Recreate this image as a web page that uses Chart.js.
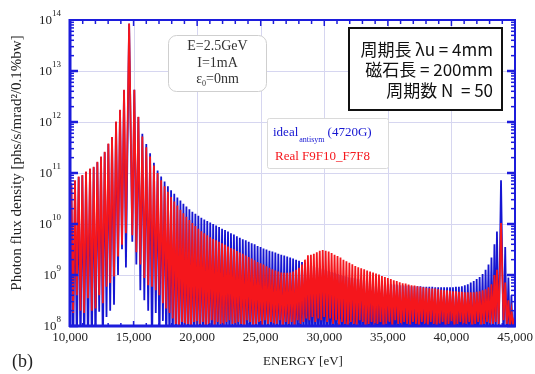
<!DOCTYPE html>
<html>
<head>
<meta charset="utf-8">
<script src="https://cdn.jsdelivr.net/npm/chart.js@4"></script>
<style>
  html, body { margin: 0; padding: 0; background: #fff; }
  canvas { display: block; }
</style>
</head>
<body>
<canvas id="flux-chart" width="535" height="374"></canvas>
<script>
// peak positions of the spectrum fringes [eV]
const peakEnergy = [
  10105, 10393, 10682, 10970, 11259, 11574, 11862, 12151, 12440, 12728, 13016, 13305, 13620, 13934, 14249,
  14650,
  15060, 15377, 15690, 16000, 16300, 16600, 16890, 17170, 17440, 17700, 17950, 18200, 18445, 18685, 18920,
  19155, 19390, 19625, 19860, 20095, 20330,
  20563, 20796, 21029, 21261, 21494, 21727, 21960, 22193, 22427, 22659,
  22891, 23124, 23357, 23590, 23823, 24056, 24288, 24521, 24754, 24987,
  25220, 25453, 25686, 25918, 26151, 26384, 26617, 26850, 27083, 27316,
  27548, 27781, 28014, 28247, 28480, 28713, 28946, 29178, 29411, 29644,
  29877, 30110, 30343, 30575, 30808, 31041, 31274, 31507, 31740, 31973,
  32205, 32438, 32671, 32904, 33137, 33370, 33602, 33835, 34068, 34301,
  34534, 34767, 35000, 35232, 35465, 35698, 35931, 36164, 36397, 36630,
  36862, 37095, 37328, 37561, 37794, 38027, 38259, 38492, 38725, 38958,
  39191, 39424, 39657, 39889, 40122, 40355, 40588, 40821, 41054, 41287,
  41519, 41752, 41985, 42218, 42451, 42684, 42916, 43149, 43382,
  43580, 43900, 44230, 44480, 44720, 44960
];

// ideal antisym (4720G), peak values
const idealPeak = [
  6e10, 7e10, 8.3e10, 8.9e10, 1.05e11, 1.2e11, 1.3e11, 1.62e11, 2.05e11, 2.55e11, 3.7e11, 5e11, 1e12, 1.7e12, 4.2e12,
  8.4e13,
  4.3e12, 1.25e12, 5.9e11, 3.7e11, 2.45e11, 1.58e11, 1.12e11, 8.5e10, 6.8e10, 5.5e10, 4.6e10, 3.9e10, 3.3e10, 2.9e10, 2.5e10,
  2.2e10, 1.95e10, 1.74e10, 1.58e10, 1.45e10, 1.32e10,
  1.23e10, 1.15e10, 1.07e10, 1e10, 9.3e9, 8.7e9, 8.1e9, 7.6e9, 7.1e9, 6.6e9,
  6.2e9, 5.75e9, 5.4e9, 5e9, 4.8e9, 4.5e9, 4.2e9, 4e9, 3.7e9, 3.55e9,
  3.3e9, 3.16e9, 3e9, 2.9e9, 2.75e9, 2.6e9, 2.5e9, 2.4e9, 2.3e9, 2.2e9,
  2.1e9, 2e9, 1.9e9, 1.8e9, 1.74e9, 1.66e9, 1.6e9, 1.5e9, 1.45e9, 1.38e9,
  1.32e9, 1.26e9, 1.2e9, 1.15e9, 1.1e9, 1.05e9, 1e9, 9.5e8, 9.3e8, 8.9e8,
  8.7e8, 8.5e8, 8.3e8, 8.1e8, 7.9e8, 7.8e8, 7.6e8, 7.4e8, 7.2e8, 7.1e8,
  6.9e8, 6.8e8, 6.6e8, 6.6e8, 6.5e8, 6.5e8, 6.3e8, 6.3e8, 6.2e8, 6.2e8,
  6e8, 6e8, 6e8, 6e8, 5.9e8, 5.9e8, 5.9e8, 5.9e8, 5.75e8, 5.75e8,
  5.75e8, 5.75e8, 5.75e8, 5.75e8, 5.75e8, 5.9e8, 5.9e8, 6e8, 6.3e8, 6.6e8,
  7.1e8, 7.6e8, 8.3e8, 9.1e8, 1.05e9, 1.26e9, 1.6e9, 2.2e9, 4e9,
  7.1e9, 7.2e10, 3.55e9, 8.9e8, 4e8, 2e8
];

// Real F9F10_F7F8, peak values
const realPeak = [
  6.3e10, 7.2e10, 8.5e10, 9.1e10, 1.07e11, 1.23e11, 1.32e11, 1.66e11, 2.1e11, 2.6e11, 3.8e11, 5.1e11, 1.02e12, 1.74e12, 4.3e12,
  8.5e13,
  4.3e12, 1.26e12, 5.2e11, 3.2e11, 2.1e11, 1.41e11, 1e11, 7.2e10, 5.5e10, 4.3e10, 3.4e10, 2.75e10, 2.3e10, 1.9e10, 1.62e10,
  1.38e10, 1.2e10, 1.05e10, 9.1e9, 8.1e9, 7.2e9,
  6.6e9, 6e9, 5.5e9, 5.1e9, 4.8e9, 4.5e9, 4.2e9, 3.9e9, 3.6e9, 3.4e9,
  3.2e9, 2.95e9, 2.75e9, 2.6e9, 2.4e9, 2.24e9, 2.1e9, 1.95e9, 1.8e9, 1.7e9,
  1.6e9, 1.48e9, 1.38e9, 1.3e9, 1.23e9, 1.17e9, 1.12e9, 1.1e9, 1.1e9, 1.12e9,
  1.17e9, 1.26e9, 1.38e9, 1.6e9, 2e9, 2.45e9, 2.5e9, 2.6e9, 2.8e9, 3e9,
  3.1e9, 3e9, 2.9e9, 2.7e9, 2.5e9, 2.35e9, 2.2e9, 2e9, 1.86e9, 1.74e9,
  1.62e9, 1.5e9, 1.41e9, 1.35e9, 1.29e9, 1.23e9, 1.17e9, 1.12e9, 1.07e9, 1.02e9,
  9.5e8, 9.1e8, 8.7e8, 8.3e8, 7.9e8, 7.6e8, 7.2e8, 6.9e8, 6.8e8, 6.5e8,
  6.3e8, 6.2e8, 6e8, 5.9e8, 5.75e8, 5.6e8, 5.5e8, 5.4e8, 5.4e8, 5.25e8,
  5.1e8, 5e8, 5e8, 4.9e8, 4.8e8, 4.8e8, 4.7e8, 4.7e8, 4.6e8, 4.6e8,
  4.6e8, 4.6e8, 4.7e8, 4.8e8, 5e8, 5.25e8, 5.75e8, 6.6e8, 1e9,
  1.26e9, 1.05e10, 7.1e8, 3.2e8, 2e8, 1.4e8
];

// minima between the fringes [eV]
const troughEnergy = [
  10000, 10249, 10538, 10826, 11115, 11416, 11718, 12006, 12295, 12584, 12872, 13160, 13462, 13777, 14091, 14400,
  14900, 15218, 15533, 15845, 16150, 16450, 16745, 17030, 17305, 17570, 17825, 18075, 18322, 18565, 18802,
  19037, 19272, 19507, 19742, 19977, 20212,
  20446, 20679, 20912, 21145, 21378, 21611, 21843, 22076, 22309, 22542,
  22775, 23008, 23240, 23473, 23706, 23939, 24172, 24405, 24638, 24870,
  25103, 25336, 25569, 25802, 26035, 26268, 26500, 26733, 26966, 27199,
  27432, 27665, 27898, 28130, 28363, 28596, 28829, 29062, 29295, 29528,
  29760, 29993, 30226, 30459, 30692, 30925, 31157, 31390, 31623, 31856,
  32089, 32322, 32555, 32787, 33020, 33253, 33486, 33719, 33952, 34184,
  34417, 34650, 34883, 35116, 35349, 35582, 35814, 36047, 36280, 36513,
  36746, 36979, 37212, 37444, 37677, 37910, 38143, 38376, 38609, 38841,
  39074, 39307, 39540, 39773, 40006, 40239, 40471, 40704, 40937, 41170,
  41403, 41636, 41869, 42101, 42334, 42567, 42800, 43033, 43266,
  43480, 43716, 44100, 44355, 44600, 44840, 45000
];

const idealTrough = [
  3e7, 3e7, 3e7, 3e7, 3e7, 3e7, 3e7, 3e7, 1.9e8, 3e7, 1.5e8, 2e8, 2.6e8, 1e9, 3.2e9, 1.4e9,
  4.5e9, 1.6e9, 5e8, 3.2e8, 2e8, 3e7, 1.8e8, 3e7, 1.26e8, 3e7, 3e7, 3e7, 3e7, 3e7, 3e7,
  3e7, 3e7, 3e7, 3e7, 3e7, 3e7,
  4e7, 3e7, 5e7, 3e7, 4e7, 3e7, 5e7, 3e7, 4e7, 3e7,
  5e7, 3e7, 4e7, 3e7, 5e7, 3e7, 4e7, 3e7, 5e7, 3e7,
  4e7, 3e7, 5e7, 3e7, 4e7, 3e7, 5e7, 3e7, 4e7, 3e7,
  5e7, 3e7, 4e7, 3e7, 5e7, 3e7, 4e7, 3e7, 5e7, 3e7,
  4e7, 3e7, 5e7, 3e7, 4e7, 3e7, 5e7, 3e7, 4e7, 3e7,
  5e7, 3e7, 4e7, 3e7, 5e7, 3e7, 4e7, 3e7, 5e7, 3e7,
  4e7, 3e7, 5e7, 3e7, 4e7, 3e7, 5e7, 3e7, 4e7, 3e7,
  5e7, 3e7, 4e7, 3e7, 5e7, 3e7, 4e7, 3e7, 5e7, 3e7,
  4e7, 3e7, 5e7, 3e7, 4e7, 3e7, 5e7, 3e7, 4e7, 3e7,
  5e7, 3e7, 4e7, 3e7, 5e7, 3e7, 4e7, 3e7, 5e7,
  4e7, 5e7, 4e7, 3e7, 4e7, 3e7, 5e7
];

const realTrough = [
  2e8, 1.8e8, 4e8, 2e8, 1.8e8, 3.5e8, 2e8, 2.2e8, 4e8, 2.8e8, 5.9e8, 7e8, 9.3e8, 2.3e9, 3.9e9, 6.6e9,
  6e9, 2.8e9, 1.6e9, 8.7e8, 6.3e8, 5.9e8, 5e8, 4e8, 2.8e8, 2.2e8, 1.8e8, 1.4e8, 1.1e8, 9e7, 1.2e8,
  8e7, 1.1e8, 7e7, 1.2e8, 9e7, 1.1e8,
  1.2e8, 8e7, 1.1e8, 1.3e8, 9e7, 1.2e8, 1.1e8, 8e7, 1.2e8, 1.3e8,
  1.1e8, 9e7, 1.2e8, 1.1e8, 8e7, 1.3e8, 1.2e8, 9e7, 1.1e8, 1.2e8,
  8e7, 1.3e8, 1.1e8, 1.2e8, 9e7, 1.1e8, 1.3e8, 8e7, 1.2e8, 1.1e8,
  1.2e8, 9e7, 1.3e8, 1.1e8, 1.2e8, 1.4e8, 1.3e8, 1.5e8, 1.2e8, 1.4e8,
  1.3e8, 1.5e8, 1.2e8, 1.4e8, 1.1e8, 1.3e8, 9e7, 1.2e8, 1.1e8, 8e7,
  1.2e8, 1.1e8, 9e7, 1.3e8, 1.2e8, 8e7, 1.1e8, 1.2e8, 9e7, 1.1e8,
  1.2e8, 8e7, 1.1e8, 1.2e8, 9e7, 1.3e8, 1.1e8, 8e7, 1.2e8, 1.1e8,
  9e7, 1.2e8, 1.1e8, 8e7, 1.2e8, 1.1e8, 9e7, 1.2e8, 1.1e8, 8e7,
  1.1e8, 1.2e8, 9e7, 1.1e8, 1.2e8, 8e7, 1.1e8, 1.2e8, 9e7, 1.1e8,
  1.2e8, 8e7, 1.1e8, 1.2e8, 9e7, 1.1e8, 1.2e8, 1e8, 1.1e8,
  1.2e8, 1.1e8, 1.3e8, 1.1e8, 9e7, 1.1e8, 1.2e8
];

const xTicks = [10000, 15000, 20000, 25000, 30000, 35000, 40000, 45000];
const yExponents = [8, 9, 10, 11, 12, 13, 14];

const BLUE = 'rgb(22, 22, 210)';
const RED = 'rgb(245, 22, 28)';
const FRAME = 'rgb(28, 28, 220)';
const GRID = 'rgb(214, 214, 240)';
const SERIF = '"Liberation Serif", "DejaVu Serif", serif';
const CJK = '"Noto Sans CJK JP", "Noto Sans", sans-serif';

// trough, peak, trough, peak ... as one line
function buildSeries(tE, tV, pE, pV) {
  const pts = [];
  for (let i = 0; i < pE.length; i++) {
    pts.push({ x: tE[i], y: tV[i] });
    pts.push({ x: pE[i], y: pV[i] });
  }
  pts.push({ x: tE[tE.length - 1], y: tV[tV.length - 1] });
  return pts;
}

function seg(ctx, x1, y1, x2, y2) {
  ctx.beginPath();
  ctx.moveTo(x1, y1);
  ctx.lineTo(x2, y2);
  ctx.stroke();
}

function roundBox(ctx, x, y, w, h, r) {
  ctx.beginPath();
  ctx.moveTo(x + r, y);
  ctx.arcTo(x + w, y, x + w, y + h, r);
  ctx.arcTo(x + w, y + h, x, y + h, r);
  ctx.arcTo(x, y + h, x, y, r);
  ctx.arcTo(x, y, x + w, y, r);
  ctx.closePath();
}

const decor = {
  id: 'decor',
  beforeDatasetsDraw(chart) {
    const { ctx, chartArea: a, scales: { x, y } } = chart;
    ctx.save();
    ctx.strokeStyle = GRID;
    ctx.lineWidth = 1;
    xTicks.slice(1, -1).forEach(v => {
      const px = Math.round(x.getPixelForValue(v)) + 0.5;
      seg(ctx, px, a.top, px, a.bottom);
    });
    yExponents.slice(1, -1).forEach(e => {
      const py = Math.round(y.getPixelForValue(Math.pow(10, e))) + 0.5;
      seg(ctx, a.left, py, a.right, py);
    });
    ctx.restore();
  },
  afterDatasetsDraw(chart) {
    const { ctx, chartArea: a, scales: { x, y } } = chart;
    ctx.save();

    // frame
    ctx.strokeStyle = FRAME;
    ctx.lineWidth = 2;
    ctx.strokeRect(a.left, a.top, a.right - a.left, a.bottom - a.top);
    ctx.lineWidth = 3;
    seg(ctx, a.left, a.top - 1, a.left, a.bottom + 1);
    seg(ctx, a.left - 1, a.bottom, a.right + 1, a.bottom);

    // log ticks on left and right, pointing inwards
    for (let e = 8; e < 14; e++) {
      for (let m = 1; m < 10; m++) {
        const py = y.getPixelForValue(m * Math.pow(10, e));
        const len = m === 1 ? 8 : 4;
        ctx.lineWidth = m === 1 ? 2.5 : 1.5;
        seg(ctx, a.left, py, a.left + len, py);
        seg(ctx, a.right, py, a.right - len, py);
      }
    }
    // energy ticks on top and bottom
    for (let v = 10000; v <= 45000; v += 1000) {
      const px = x.getPixelForValue(v);
      const len = v % 5000 === 0 ? 6 : 4;
      ctx.lineWidth = 1.5;
      seg(ctx, px, a.top, px, a.top + len);
      seg(ctx, px, a.bottom, px, a.bottom - len + 1);
    }

    // y tick labels 10^n
    ctx.fillStyle = '#222';
    ctx.textBaseline = 'middle';
    yExponents.forEach(e => {
      const py = y.getPixelForValue(Math.pow(10, e));
      const sup = String(e);
      ctx.font = '9px ' + SERIF;
      const wSup = ctx.measureText(sup).width;
      ctx.textAlign = 'left';
      ctx.fillText(sup, 61 - wSup, py - 6);
      ctx.font = '13px ' + SERIF;
      ctx.textAlign = 'right';
      ctx.fillText('10', 61 - wSup, py + 1);
    });

    // x tick labels
    ctx.font = '13px ' + SERIF;
    ctx.textAlign = 'center';
    xTicks.forEach(v => {
      ctx.fillText(v.toLocaleString('en-US'), x.getPixelForValue(v), 338);
    });

    // axis titles
    ctx.font = '13px ' + SERIF;
    ctx.fillText('ENERGY [eV]', 303, 362);
    ctx.save();
    ctx.translate(17, 163);
    ctx.rotate(-Math.PI / 2);
    ctx.font = '15px ' + SERIF;
    ctx.fillText('Photon flux density [phs/s/mrad\u00b2/0.1%bw]', 0, 0);
    ctx.restore();
    ctx.font = '18px ' + SERIF;
    ctx.textAlign = 'left';
    ctx.fillText('(b)', 12, 362);

    // beam parameters box
    roundBox(ctx, 168.5, 35.5, 98, 56, 8);
    ctx.fillStyle = '#fff';
    ctx.fill();
    ctx.strokeStyle = '#cfcfcf';
    ctx.lineWidth = 1;
    ctx.stroke();
    ctx.fillStyle = '#333';
    ctx.font = '14px ' + SERIF;
    ctx.textAlign = 'center';
    ctx.fillText('E=2.5GeV', 217.5, 46);
    ctx.fillText('I=1mA', 217.5, 63);
    const wEps = ctx.measureText('\u03b5').width;
    const wRest = ctx.measureText('=0nm').width;
    ctx.font = '8px ' + SERIF;
    const wSub = ctx.measureText('0').width;
    let sx = 217.5 - (wEps + wSub + wRest) / 2;
    ctx.textAlign = 'left';
    ctx.font = '14px ' + SERIF;
    ctx.fillText('\u03b5', sx, 79);
    ctx.font = '8px ' + SERIF;
    ctx.fillText('0', sx + wEps, 84);
    ctx.font = '14px ' + SERIF;
    ctx.fillText('=0nm', sx + wEps + wSub, 79);

    // legend box
    roundBox(ctx, 267.5, 118.5, 121, 50, 2);
    ctx.fillStyle = '#fff';
    ctx.fill();
    ctx.strokeStyle = '#dadada';
    ctx.stroke();
    ctx.fillStyle = BLUE;
    ctx.font = '13px ' + SERIF;
    ctx.fillText('ideal', 273, 133);
    let lx = 273 + ctx.measureText('ideal').width + 1;
    ctx.font = '8px ' + SERIF;
    ctx.fillText('antisym', lx, 140);
    lx += ctx.measureText('antisym').width + 3;
    ctx.font = '13px ' + SERIF;
    ctx.fillText('(4720G)', lx, 133);
    ctx.fillStyle = RED;
    ctx.fillText('Real F9F10_F7F8', 275, 157);

    // undulator box
    ctx.fillStyle = '#fff';
    ctx.fillRect(349, 28, 153, 82);
    ctx.strokeStyle = '#111';
    ctx.lineWidth = 2;
    ctx.strokeRect(349, 28, 153, 82);
    ctx.fillStyle = '#111';
    ctx.font = '17px ' + CJK;
    ctx.textAlign = 'right';
    ctx.fillText('周期長 λu = 4mm', 493, 50);
    ctx.fillText('磁石長 = 200mm', 493, 70);
    ctx.fillText('周期数 N  = 50', 493, 91);

    ctx.restore();
  }
};

new Chart(document.getElementById('flux-chart').getContext('2d'), {
  type: 'line',
  data: {
    datasets: [
      {
        label: 'Real F9F10_F7F8',
        data: buildSeries(troughEnergy, realTrough, peakEnergy, realPeak),
        borderColor: RED,
        borderWidth: 1.8,
        pointRadius: 0,
        tension: 0,
        order: 1
      },
      {
        label: 'ideal antisym (4720G)',
        data: buildSeries(troughEnergy, idealTrough, peakEnergy, idealPeak),
        borderColor: BLUE,
        borderWidth: 1.8,
        pointRadius: 0,
        tension: 0,
        order: 2
      }
    ]
  },
  options: {
    responsive: false,
    animation: false,
    devicePixelRatio: 1,
    layout: { padding: { left: 70, top: 20, right: 20, bottom: 48 } },
    scales: {
      x: { type: 'linear', min: 10000, max: 45000, display: false },
      y: { type: 'logarithmic', min: 1e8, max: 1e14, display: false }
    },
    plugins: { legend: { display: false }, tooltip: { enabled: false } }
  },
  plugins: [decor]
});
</script>
</body>
</html>
